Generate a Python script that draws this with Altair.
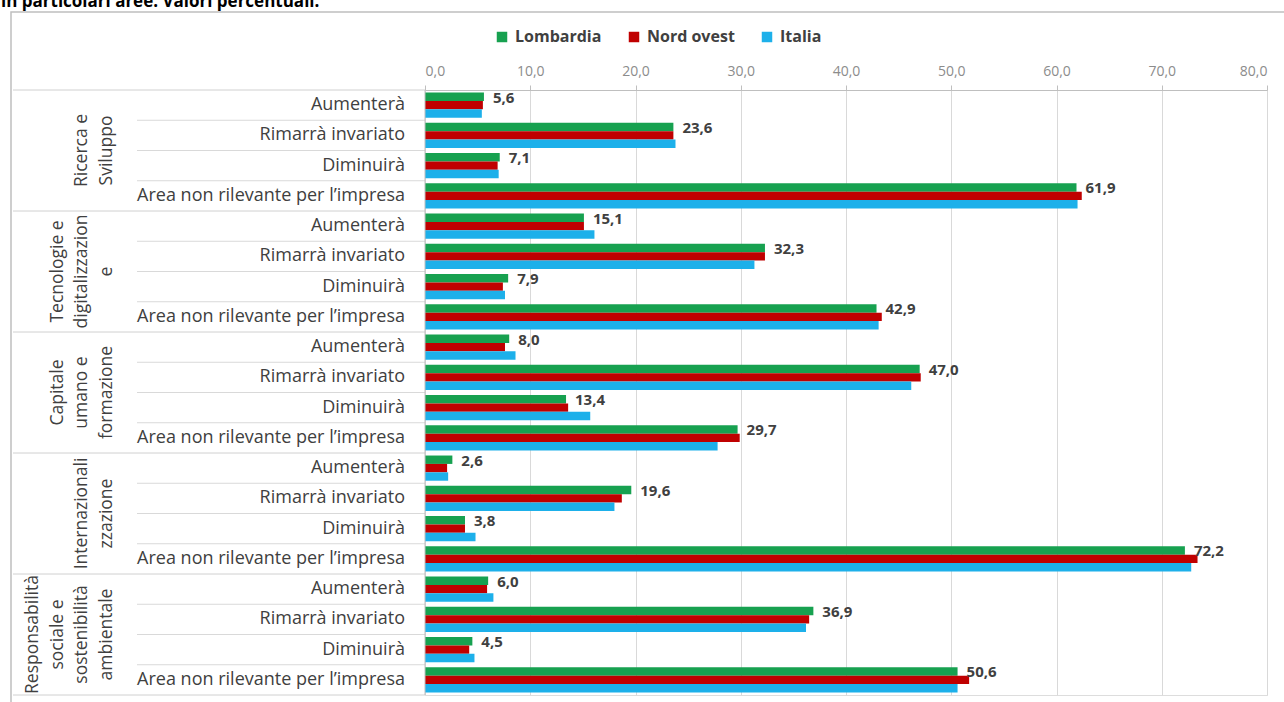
import altair as alt
import pandas as pd

# Aree di investimento e risposte
gruppi = [
    "Ricerca e\nSviluppo",
    "Tecnologie e\ndigitalizzazion\ne",
    "Capitale\numano e\nformazione",
    "Internazionali\nzzazione",
    "Responsabilità\nsociale e\nsostenibilità\nambientale",
]
risposte = ["Aumenterà", "Rimarrà invariato", "Diminuirà", "Area non rilevante per l’impresa"]
serie = ["Lombardia", "Nord ovest", "Italia"]
colori = ["#17A150", "#C00000", "#1DB0EA"]

# Valori percentuali (stesso ordine: area x risposta)
lombardia = [5.6, 23.6, 7.1, 61.9, 15.1, 32.3, 7.9, 42.9, 8.0, 47.0,
             13.4, 29.7, 2.6, 19.6, 3.8, 72.2, 6.0, 36.9, 4.5, 50.6]
nord_ovest = [5.5, 23.6, 6.9, 62.4, 15.1, 32.3, 7.4, 43.4, 7.6, 47.1,
              13.6, 29.9, 2.1, 18.7, 3.8, 73.4, 5.9, 36.5, 4.2, 51.7]
italia = [5.4, 23.8, 7.0, 62.0, 16.1, 31.3, 7.6, 43.1, 8.6, 46.2,
          15.7, 27.8, 2.2, 18.0, 4.8, 72.8, 6.5, 36.2, 4.7, 50.6]
tick_valori = [0, 10, 20, 30, 40, 50, 60, 70, 80]
titolo = "in particolari aree. Valori percentuali."

FONT = "Open Sans"
TESTO = "#404040"

righe = [f"{g}-{r}" for g in range(len(gruppi)) for r in range(len(risposte))]

barre = pd.DataFrame(
    [
        {"riga": righe[i], "serie": s, "valore": v}
        for s, valori in zip(serie, [lombardia, nord_ovest, italia])
        for i, v in enumerate(valori)
    ]
)
etichette = pd.DataFrame(
    {
        "riga": righe,
        "serie": "Lombardia",
        "valore": lombardia,
        "testo": [f"{v:.1f}".replace(".", ",") for v in lombardia],
    }
)
sottoetichette = pd.DataFrame(
    {"riga": righe, "risposta": [risposte[i % 4] for i in range(len(righe))]}
)

# Etichette verticali delle aree: una riga di testo per record,
# "pos" conta le righe a partire dall'ultima (la più vicina alle risposte).
righe_gruppi = []
for g, nome in enumerate(gruppi):
    linee = nome.split("\n")
    for i, linea in enumerate(linee):
        righe_gruppi.append({"riga": f"{g}-2", "pos": len(linee) - 1 - i, "testo": linea})
etichette_gruppi = pd.DataFrame(righe_gruppi)

sep_interni = pd.DataFrame({"riga": [f"{g}-{r}" for g in range(len(gruppi)) for r in (1, 2, 3)]})
sep_gruppi = pd.DataFrame({"riga": [f"{g}-0" for g in range(len(gruppi))]})
sep_fondo = pd.DataFrame({"riga": [righe[-1]]})
cornice = pd.DataFrame({"k": [0]})
intestazione = pd.DataFrame({"titolo": [titolo]})

y_scale = alt.Scale(domain=righe, paddingInner=0, paddingOuter=0)
yoff_scale = alt.Scale(domain=serie, paddingInner=0, paddingOuter=0.3)
x_enc = alt.X(
    "valore:Q",
    scale=alt.Scale(domain=[0, 80], nice=False, zero=True),
    axis=alt.Axis(
        orient="top",
        values=tick_valori,
        labelExpr="replace(format(datum.value, '.1f'), '.', ',')",
        grid=True,
        gridColor="#d9d9d9",
        domainColor="#bfbfbf",
        tickColor="#bfbfbf",
        tickSize=5,
        labelPadding=7,
        labelFont=FONT,
        labelFontSize=14,
        labelColor="#8c8c8c",
        title=None,
    ),
)

bars = alt.Chart(barre).mark_bar().encode(
    x=x_enc,
    y=alt.Y("riga:N", scale=y_scale, axis=None),
    yOffset=alt.YOffset("serie:N", scale=yoff_scale),
    color=alt.Color(
        "serie:N",
        scale=alt.Scale(domain=serie, range=colori),
        legend=alt.Legend(
            orient="none",
            legendX=69,
            legendY=-61,
            direction="horizontal",
            title=None,
            symbolType="square",
            symbolSize=110,
            symbolStrokeWidth=0,
            labelFont=FONT,
            labelFontWeight="bold",
            labelFontSize=16,
            labelColor=TESTO,
            labelOffset=5,
            columnPadding=24,
        ),
    ),
)

valori_txt = alt.Chart(etichette).mark_text(
    align="left", baseline="middle", dx=9, dy=1,
    font=FONT, fontSize=15, fontWeight="bold", color=TESTO,
).encode(
    x=alt.X("valore:Q"),
    y=alt.Y("riga:N", scale=y_scale, axis=None),
    yOffset=alt.YOffset("serie:N", scale=yoff_scale),
    text="testo:N",
)

sub_txt = alt.Chart(sottoetichette).mark_text(
    align="right", baseline="middle", font=FONT, fontSize=18, color=TESTO,
).encode(
    x=alt.value(-20),
    y=alt.Y("riga:N", scale=y_scale, axis=None),
    text="risposta:N",
)

dati = alt.layer(
    rule_in := alt.Chart(sep_interni).mark_rule(color="#d9d9d9", strokeWidth=1).encode(
        x=alt.value(-288), x2=alt.value(0),
        y=alt.Y("riga:N", scale=y_scale, axis=None, bandPosition=0),
    ),
    alt.Chart(sep_gruppi).mark_rule(color="#d0d0d0", strokeWidth=1).encode(
        x=alt.value(-412), x2=alt.value(0),
        y=alt.Y("riga:N", scale=y_scale, axis=None, bandPosition=0),
    ),
    alt.Chart(sep_fondo).mark_rule(color="#d0d0d0", strokeWidth=1).encode(
        x=alt.value(-412), x2=alt.value(0),
        y=alt.Y("riga:N", scale=y_scale, axis=None, bandPosition=1),
    ),
    bars,
    alt.Chart(cornice).mark_rule(color="#bfbfbf", strokeWidth=1).encode(
        x=alt.value(0), y=alt.value(0), y2=alt.value(605),
    ),
    valori_txt,
    sub_txt,
)

# Righe delle etichette d'area, su una scala orizzontale propria
grp_txt = alt.Chart(etichette_gruppi).mark_text(
    align="center", baseline="middle", angle=270,
    font=FONT, fontSize=17.5, color=TESTO,
).encode(
    x=alt.X("pos:Q", scale=alt.Scale(domain=[0, 3], range=[-318, -392], zero=False, nice=False), axis=None),
    y=alt.Y("riga:N", scale=y_scale, axis=None, bandPosition=0),
    text="testo:N",
)

bordo = alt.Chart(cornice).mark_rect(
    fillOpacity=0, stroke="#bfbfbf", strokeWidth=1.5,
).encode(
    x=alt.value(-414), x2=alt.value(880), y=alt.value(-78), y2=alt.value(640),
)
testa = alt.Chart(intestazione).mark_text(
    align="left", baseline="alphabetic", font=FONT, fontSize=17,
    fontWeight="bold", color="#000000",
).encode(
    x=alt.value(-424), y=alt.value(-83), text="titolo:N",
)

chart = (
    alt.layer(bordo, testa, dati, grp_txt)
    .resolve_scale(x="independent")
    .properties(
        width=842,
        height=605,
        autosize=alt.AutoSizeParams(type="none"),
        padding={"left": 425, "top": 90, "right": 17, "bottom": 7},
        background="#ffffff",
    )
    .configure_view(stroke=None)
    .configure(font=FONT)
)

chart.save("out.html", embed_options={"renderer": "svg", "actions": False})
